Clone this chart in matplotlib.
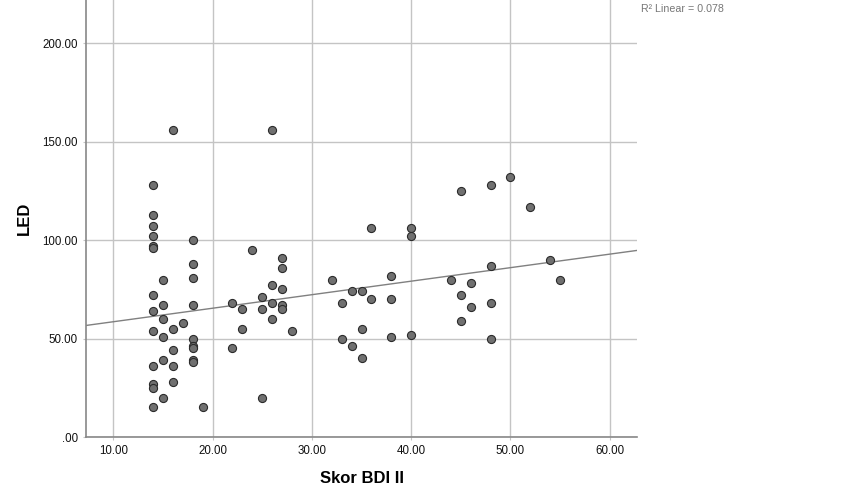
import numpy as np
import matplotlib
matplotlib.use("Agg")
import matplotlib.pyplot as plt

# Skor BDI II vs LED
bdi = [14, 14, 14, 14, 14, 14, 14, 14, 14, 14, 14, 14, 14,
       15, 15, 15, 15, 15, 15,
       16, 16, 16, 16, 16,
       17,
       18, 18, 18, 18, 18, 18, 18, 18, 18,
       19,
       22, 22, 23, 23, 24, 25, 25, 25,
       26, 26, 26, 26,
       27, 27, 27, 27, 27,
       28, 32,
       33, 33, 34, 34, 35, 35, 35, 36, 36,
       38, 38, 38, 40, 40, 40,
       44, 45, 45, 45, 46, 46,
       48, 48, 48, 48, 50, 52, 54, 55]
led = [128, 113, 107, 102, 97, 96, 72, 64, 54, 36, 27, 25, 15,
       80, 67, 60, 51, 39, 20,
       156, 55, 44, 36, 28,
       58,
       100, 88, 81, 67, 50, 46, 45, 39, 38,
       15,
       68, 45, 65, 55, 95, 71, 65, 20,
       156, 77, 68, 60,
       91, 86, 75, 67, 65,
       54, 80,
       68, 50, 74, 46, 74, 55, 40, 106, 70,
       82, 70, 51, 106, 102, 52,
       80, 125, 72, 59, 78, 66,
       128, 87, 68, 50, 132, 117, 90, 80]

xticks = [10, 20, 30, 40, 50, 60]
yticks = [0, 50, 100, 150, 200]
r2_text = "R\u00b2 Linear = 0.078"

plt.rcParams['font.family'] = ['Liberation Sans', 'DejaVu Sans']

fig = plt.figure(figsize=(8.51, 5.01), dpi=100)
ax = fig.add_axes([86 / 851, 1 - 437 / 501, 551 / 851, 437 / 501])

ax.set_xlim(7.25, 62.75)
ax.set_ylim(0, 222)

ax.grid(True, color="#c4c4c4", linewidth=1)
ax.set_axisbelow(True)

# linear fit
slope, icept = np.polyfit(bdi, led, 1)
xs = np.array(ax.get_xlim())
ax.plot(xs, icept + slope * xs, color="#808080", linewidth=1, zorder=2)

ax.scatter(bdi, led, s=34, facecolor="#707070", edgecolor="#2b2b2b",
           linewidth=0.8, zorder=3)

ax.set_xticks(xticks)
ax.set_xticklabels([f"{v:.2f}" for v in xticks])
ax.set_yticks(yticks)
ax.set_yticklabels([".00" if v == 0 else f"{v:.2f}" for v in yticks])
ax.tick_params(length=2, pad=4, labelsize=8.3, color="#c4c4c4", labelcolor="#111111")

for side in ["top", "right"]:
    ax.spines[side].set_visible(False)
for side in ["left", "bottom"]:
    ax.spines[side].set_color("#888888")
    ax.spines[side].set_linewidth(1.2)

ax.set_xlabel("Skor BDI II", fontsize=12, fontweight="bold")
ax.xaxis.set_label_coords(0.5, -0.078)
ax.set_ylabel("LED", fontsize=12, fontweight="bold")
ax.yaxis.set_label_coords(-0.098, 0.5)

fig.text(641 / 851, 1 - 9 / 501, r2_text, fontsize=7.7, color="#777777",
         ha="left", va="center")

fig.savefig("out.png", dpi=100)
